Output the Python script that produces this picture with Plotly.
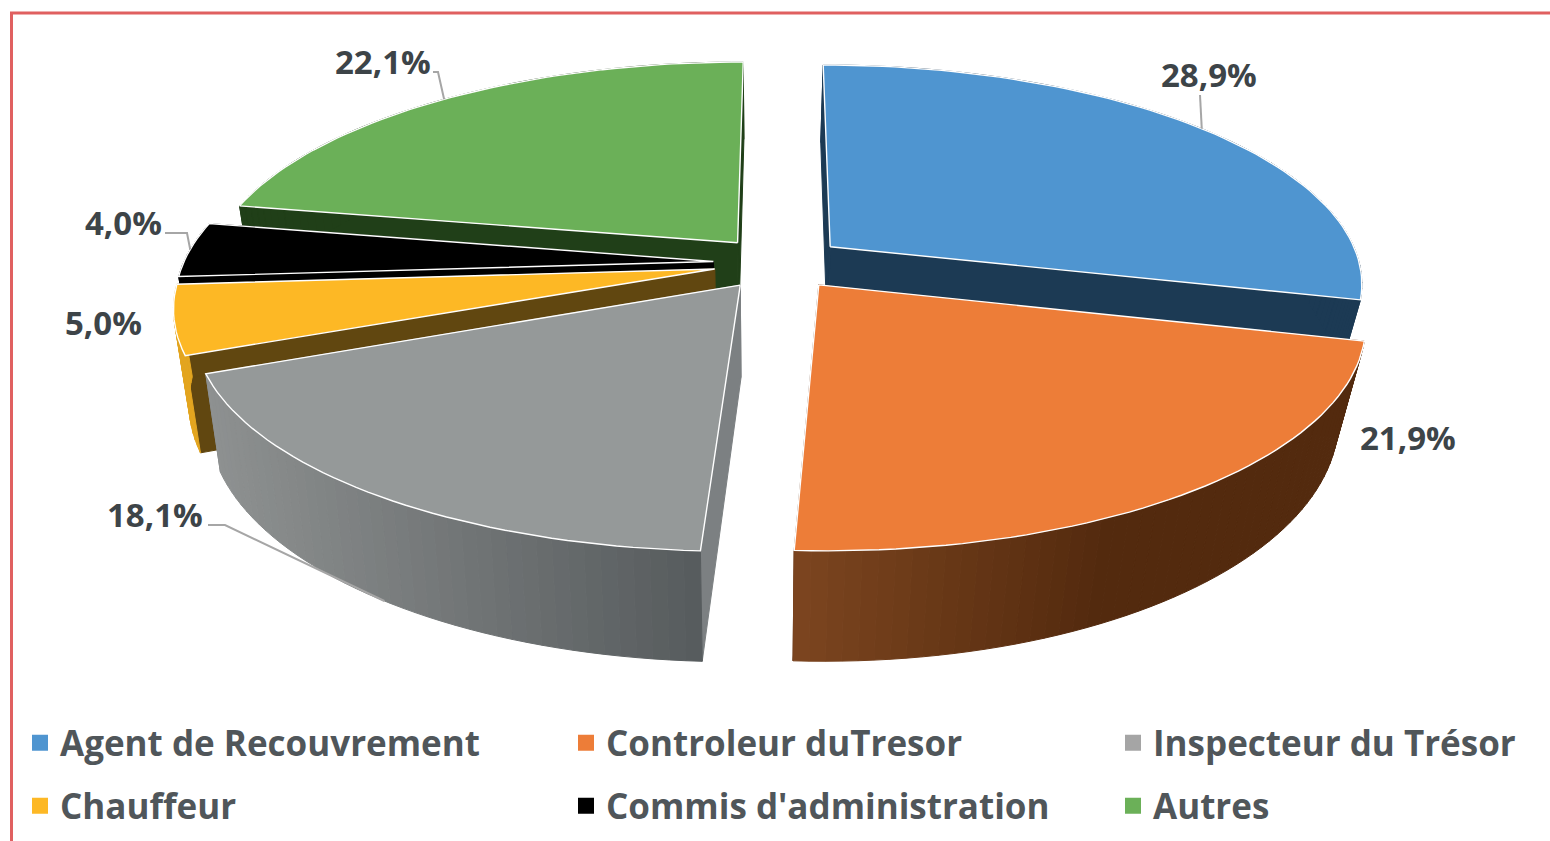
import math
import plotly.graph_objects as go

# ---- data ----
categories = ["Agent de Recouvrement", "Controleur duTresor", "Inspecteur du Trésor",
              "Chauffeur", "Commis d'administration", "Autres"]
values = [28.9, 21.9, 18.1, 5.0, 4.0, 22.1]

# ---- style ----
top_colors = ["#4f95d0", "#ed7d38", "#959999", "#fdb825", "#000000", "#6bb058"]
legend_colors = ["#4f95d0", "#ed7d38", "#a5a5a5", "#fdb825", "#000000", "#6bb058"]
radial_colors = ["#1c3a54", "#5a2d10", "#7c8082", "#614710", "#000000", "#203f18"]
rim_left = ["#1c3a54", "#7c451f", "#8e9191", "#e3a51f", "#000000", "#203f18"]
rim_right = ["#1c3a54", "#532a0e", "#565b5d", "#e3a51f", "#000000", "#203f18"]
paint_order = [5, 0, 4, 3, 1, 2]
TEXT = "#3d4448"
LEG = "#50565a"
FONT = "Open Sans"

# perspective projection of the tilted disc
CX, CY, RX, RY, K, EXPLODE = 779, 263, 530, 215.7, 0.16, 0.124
WALL = 91


def project(u, v):
    p = 1 / (1 - K * v)
    return CX + RX * u * p, CY + RY * v * p, p


def drop(x, y, p):
    h = WALL * p
    dx = 0.026 * (770 - x) if x < 770 else -0.046 * (x - 770)
    return x + dx, y + h


def disc(theta, r, off):
    return off[0] + r * math.sin(theta), off[1] - r * math.cos(theta)


def poly(fig, pts, fill, line=None, lw=1.0):
    fig.add_trace(go.Scatter(
        x=[a[0] for a in pts] + [pts[0][0]], y=[a[1] for a in pts] + [pts[0][1]],
        mode="lines", fill="toself", fillcolor=fill,
        line=dict(color=line or fill, width=lw), showlegend=False, hoverinfo="skip"))


def mix(c1, c2, t):
    a = [int(c1[i:i + 2], 16) for i in (1, 3, 5)]
    b = [int(c2[i:i + 2], 16) for i in (1, 3, 5)]
    return "#" + "".join(f"{round(a[i] + (b[i] - a[i]) * t):02x}" for i in range(3))


fig = go.Figure()

total = sum(values)
edges = [0.0]
for val in values:
    edges.append(edges[-1] + val / total * 2 * math.pi)

rim_pts = {}
for i in paint_order:
    t0, t1 = edges[i], edges[i + 1]
    mid = (t0 + t1) / 2
    off = (EXPLODE * math.sin(mid), -EXPLODE * math.cos(mid))
    n = max(10, int((t1 - t0) / (2 * math.pi) * 240))
    angles = [t0 + (t1 - t0) * k / n for k in range(n + 1)]
    top = [project(*disc(a, 1, off)) for a in angles]
    bottom = [drop(*q) for q in top]
    tip = project(*off)
    tip_b = drop(*tip)
    rim_pts[i] = dict(off=off, mid=mid)

    # radial faces
    for q, b in ((top[0], bottom[0]), (top[-1], bottom[-1])):
        poly(fig, [tip[:2], q[:2], b, tip_b], radial_colors[i])
    # outer wall, shaded in small slices
    xmin, xmax = min(q[0] for q in top), max(q[0] for q in top)
    for k in range(n):
        xm = (top[k][0] + top[k + 1][0]) / 2
        f = (xm - xmin) / (xmax - xmin + 1e-6)
        if i == 1:                         # orange wall is darker to the right
            col = mix(rim_left[i], rim_right[i], min(1, f / 0.55))
        else:
            col = mix(rim_left[i], rim_right[i], f)
        poly(fig, [top[k][:2], top[k + 1][:2], bottom[k + 1], bottom[k]], col)
    # top face
    poly(fig, [tip[:2]] + [q[:2] for q in top], top_colors[i], "#ffffff", 1.4)
    rim_pts[i]["top"] = project(*disc(mid, 1, off))[:2]
    rim_pts[i]["bottom"] = drop(*project(*disc(mid, 1, off)))

# ---- data labels with leaders ----
label_pos = {0: (1209, 74), 1: (1408, 437), 2: (155, 514), 3: (103, 322), 4: (123, 222), 5: (383, 61)}
leaders = {
    0: ([(1200, 95)], "top"),
    2: ([(208, 525), (225, 525)], "bottom"),
    4: ([(165, 233), (187, 233)], "top"),
    5: ([(433, 72), (438, 72)], "top"),
}
for i, (pts, where) in leaders.items():
    line = pts + [rim_pts[i][where]]
    fig.add_trace(go.Scatter(x=[a[0] for a in line], y=[a[1] for a in line], mode="lines",
                             line=dict(color="#a6a6a6", width=2), showlegend=False, hoverinfo="skip"))
for i, val in enumerate(values):
    fig.add_annotation(x=label_pos[i][0], y=label_pos[i][1], text=f"<b>{val:.1f}%</b>".replace(".", ","),
                       showarrow=False, xanchor="center", yanchor="middle",
                       font=dict(family=FONT, size=33, color=TEXT))

# ---- legend: one small legend per entry, on a 3 x 2 grid ----
col_x = [20, 566, 1113]
row_y = [743, 806]
leg_layout = {}
for i, cat in enumerate(categories):
    key = "legend" if i == 0 else f"legend{i + 1}"
    fig.add_trace(go.Scatter(x=[None], y=[None], mode="markers", name=cat, showlegend=True,
                             marker=dict(symbol="square", size=16, color=legend_colors[i]),
                             legend=key, hoverinfo="skip"))
    leg_layout[key] = dict(orientation="h", x=col_x[i % 3] / 1550, y=1 - row_y[i // 3] / 841,
                           xanchor="left", yanchor="middle", bgcolor="rgba(0,0,0,0)",
                           font=dict(family=FONT, size=35, color=LEG, weight=700),
                           itemwidth=30, borderwidth=0)

fig.update_layout(
    width=1550, height=841, margin=dict(l=0, r=0, t=0, b=0), autosize=False,
    paper_bgcolor="#ffffff", plot_bgcolor="#ffffff",
    xaxis=dict(range=[0, 1550], visible=False, fixedrange=True),
    yaxis=dict(range=[841, 0], visible=False, fixedrange=True),
    shapes=[dict(type="line", xref="paper", yref="paper", x0=11.5 / 1550, x1=11.5 / 1550, y0=0, y1=1 - 13 / 841,
                 line=dict(color="#e06060", width=3)),
            dict(type="line", xref="paper", yref="paper", x0=10 / 1550, x1=1, y0=1 - 13 / 841, y1=1 - 13 / 841,
                 line=dict(color="#e06060", width=3))],
    **leg_layout,
)

fig.write_html("out.html", config={"displayModeBar": False},
               post_script="document.body.style.margin='0';document.body.style.overflow='hidden';")
